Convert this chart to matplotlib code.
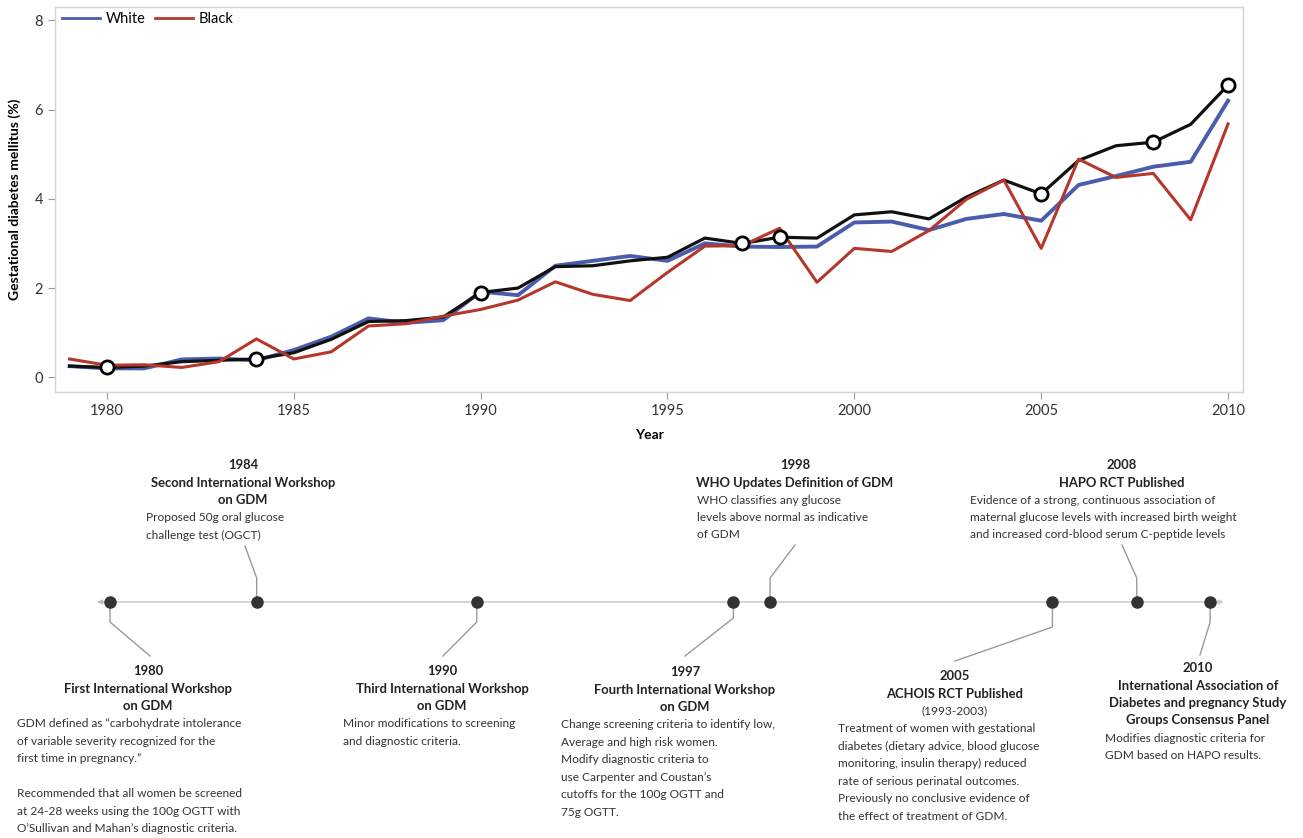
import numpy as np
import matplotlib
matplotlib.use("Agg")
import matplotlib.pyplot as plt

plt.rcParams['font.family'] = ['Lato', 'DejaVu Sans']

W, H = 1303, 838

# ---------------------------- data ----------------------------
years = np.arange(1979, 2011)
white = [0.25, 0.20, 0.20, 0.40, 0.42, 0.38, 0.61, 0.91, 1.32, 1.22, 1.28,
         1.92, 1.84, 2.50, 2.61, 2.72, 2.61, 3.00, 2.93, 2.92, 2.93, 3.47,
         3.49, 3.30, 3.55, 3.66, 3.51, 4.31, 4.51, 4.72, 4.83, 6.20]
black = [0.41, 0.27, 0.28, 0.22, 0.35, 0.86, 0.41, 0.57, 1.15, 1.20, 1.37,
         1.52, 1.73, 2.14, 1.86, 1.72, 2.35, 2.94, 2.95, 3.34, 2.13, 2.89,
         2.82, 3.29, 3.99, 4.42, 2.89, 4.89, 4.48, 4.57, 3.53, 5.68]
overall = [0.25, 0.22, 0.25, 0.35, 0.38, 0.41, 0.55, 0.85, 1.25, 1.27, 1.35,
           1.90, 2.00, 2.48, 2.50, 2.61, 2.69, 3.12, 3.00, 3.14, 3.12, 3.64,
           3.71, 3.55, 4.04, 4.42, 4.11, 4.86, 5.19, 5.27, 5.67, 6.55]
event_years = [1980, 1984, 1990, 1997, 1998, 2005, 2008, 2010]
# where the event dot sits on the timeline (2005 is drawn a bit late)
event_pos = [1980, 1984, 1990, 1997, 1998, 2005.7, 2008, 2010]

BLUE = '#4a5cab'
RED = '#b5372c'

fig = plt.figure(figsize=(W / 100, H / 100), dpi=100)

#---------------------------- line chart ----------------------------#
ax = fig.add_axes([55 / W, 1 - 392 / H, 1188 / W, 385 / H])
ax.plot(years, white, color=BLUE, lw=2.8, label='White', zorder=2)
ax.plot(years, overall, color='#111111', lw=2.3, zorder=3)
ax.plot(years, black, color=RED, lw=2.2, label='Black', zorder=4)
idx = [list(years).index(y) for y in event_years]
ax.plot(event_years, [overall[i] for i in idx], 'o', ms=9.5, mfc='white',
        mec='black', mew=2.0, zorder=5)

ax.set_xlim(1978.61, 2010.4)
ax.set_ylim(-0.33, 8.3)
ax.set_xticks([1980, 1985, 1990, 1995, 2000, 2005, 2010])
ax.set_yticks([0, 2, 4, 6, 8])
for s in ax.spines.values():
    s.set_color('#d4d4d4')
    s.set_linewidth(1.0)
ax.tick_params(colors='#999999', labelcolor='#333333', labelsize=10.5, length=5)
ax.set_xlabel('Year', fontsize=10, fontweight='bold', labelpad=8)
ax.set_ylabel('Gestational diabetes mellitus (%)', fontsize=10,
              fontweight='bold', labelpad=10)
leg = ax.legend(loc='upper left', ncol=2, frameon=False, fontsize=10.5,
                handlelength=2.6, columnspacing=0.6, handletextpad=0.4,
                borderaxespad=0.1, bbox_to_anchor=(0.0, 1.005))
for h in leg.get_lines():
    h.set_linewidth(2.0)

#---------------------------- timeline ----------------------------#
tl = fig.add_axes([0, 0, 1, 1])
tl.set_xlim(1980 - 110 / 36.67, 1980 + (W - 110) / 36.67)
tl.set_ylim(H, 0)
tl.axis('off')
tl.patch.set_alpha(0)

def px2yr(px):
    return 1980 + (px - 110) / 36.67

LY = 602
tl.annotate('', xy=(px2yr(1224), LY), xytext=(px2yr(100), LY),
            arrowprops=dict(arrowstyle='-|>', color='#cfcfcf', lw=1.2,
                            mutation_scale=7, shrinkA=0, shrinkB=0))
tl.annotate('', xy=(px2yr(97), LY), xytext=(px2yr(104), LY),
            arrowprops=dict(arrowstyle='-|>', color='#bdbdbd', lw=1.0,
                            mutation_scale=7, shrinkA=0, shrinkB=0))
tl.plot(event_pos, [LY] * len(event_pos), 'o', ms=8, color='#333333', zorder=5)

# connector: (elbow direction, elbow end y, label anchor x, label anchor y)
conn = [(+1, 622, 150, 656), (-1, 578, 245, 546), (+1, 622, 443, 656),
        (+1, 618, 685, 656), (-1, 578, 795, 545), (+1, 627, 955, 661),
        (-1, 578, 1122, 545), (+1, 622, 1200, 655)]
for p, (d, ey, axp, ayp) in zip(event_pos, conn):
    tl.plot([p, p, px2yr(axp)], [LY, ey, ayp], color='#9a9a9a', lw=1.0,
            zorder=1)

FS = 8.6
FSB = 9.4
LH = 17.5

def block(cx, y0, heads, lx, desc, sub=None):
    y = y0
    for h in heads:
        fig.text(cx / W, 1 - y / H, h, ha='center', va='center',
                 fontsize=FSB, fontweight='bold', color='#222222')
        y += LH
    if sub:
        fig.text(cx / W, 1 - y / H, sub, ha='center', va='center',
                 fontsize=FS, color='#333333')
        y += LH
    for line in desc:
        if line:
            fig.text(lx / W, 1 - y / H, line, ha='left', va='center',
                     fontsize=FS, color='#333333')
        y += LH

block(243, 465, ['1984', 'Second International Workshop', 'on GDM'], 146,
      ['Proposed 50g oral glucose', 'challenge test (OGCT)'])
block(795, 465, ['1998', 'WHO Updates Definition of GDM'], 697,
      ['WHO classifies any glucose', 'levels above normal as indicative',
       'of GDM'])
block(1122, 465, ['2008', 'HAPO RCT Published'], 970,
      ['Evidence of a strong, continuous association of',
       'maternal glucose levels with increased birth weight',
       'and increased cord-blood serum C-peptide levels'])
block(148, 671, ['1980', 'First International Workshop', 'on GDM'], 17,
      ['GDM defined as \u201ccarbohydrate intolerance',
       'of variable severity recognized for the',
       'first time in pregnancy.\u201d', '',
       'Recommended that all women be screened',
       'at 24-28 weeks using the 100g OGTT with',
       'O\u2019Sullivan and Mahan\u2019s diagnostic criteria.'])
block(442, 671, ['1990', 'Third International Workshop', 'on GDM'], 343,
      ['Minor modifications to screening', 'and diagnostic criteria.'])
block(685, 672, ['1997', 'Fourth International Workshop', 'on GDM'], 561,
      ['Change screening criteria to identify low,',
       'Average and high risk women.', 'Modify diagnostic criteria to',
       'use Carpenter and Coustan\u2019s', 'cutoffs for the 100g OGTT and',
       '75g OGTT.'])
block(955, 676, ['2005', 'ACHOIS RCT Published'], 838,
      ['Treatment of women with gestational',
       'diabetes (dietary advice, blood glucose',
       'monitoring, insulin therapy) reduced',
       'rate of serious perinatal outcomes.',
       'Previously no conclusive evidence of',
       'the effect of treatment of GDM.'], sub='(1993-2003)')
block(1198, 668, ['2010', 'International Association of',
                  'Diabetes and pregnancy Study', 'Groups Consensus Panel'],
      1105, ['Modifies diagnostic criteria for', 'GDM based on HAPO results.'])

fig.savefig('out.png', dpi=100)
